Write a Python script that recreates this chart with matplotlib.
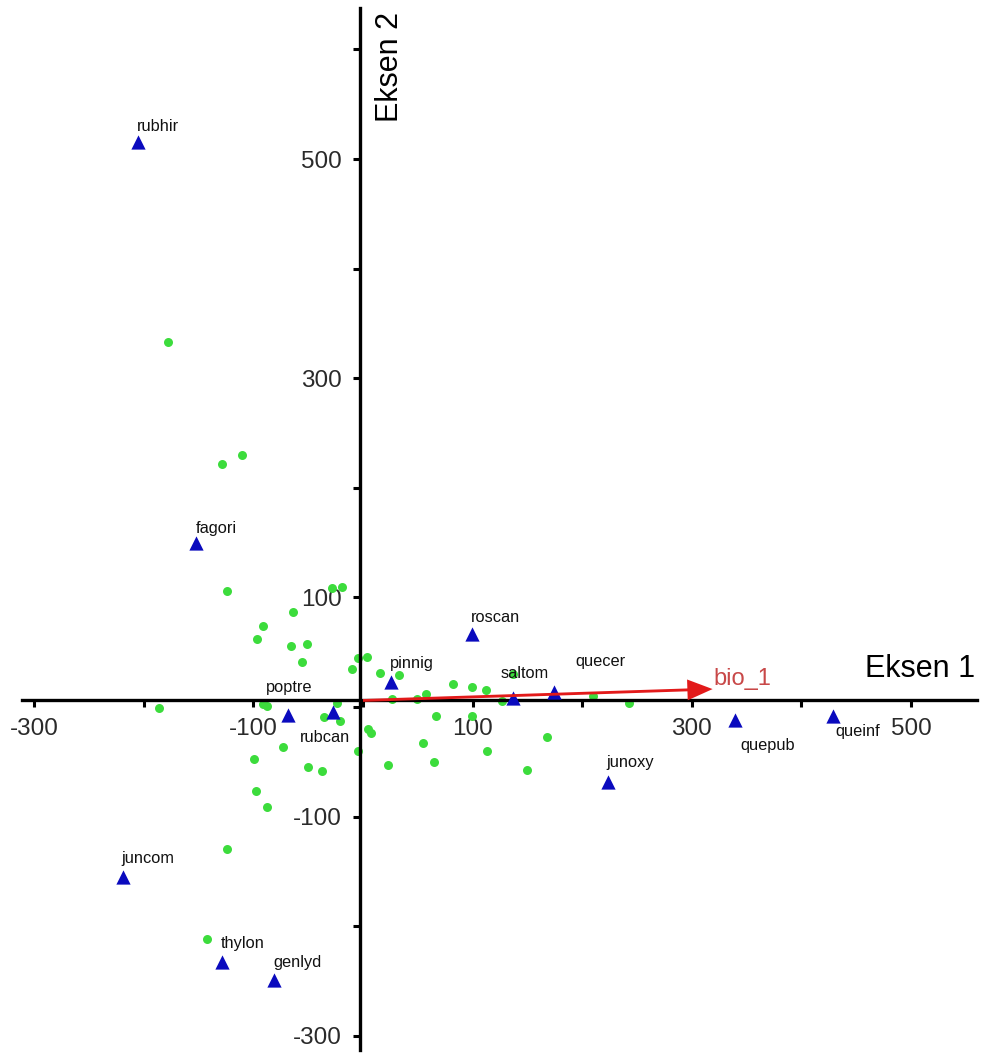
import matplotlib
matplotlib.use("Agg")
import matplotlib.pyplot as plt

plt.rcParams['font.family'] = ['Liberation Sans', 'DejaVu Sans']
plt.rcParams['axes.unicode_minus'] = False

# site scores (green dots), axis 1 / axis 2
site_x = [-178.2, -128.4, -110.1, -124.4, -64.1, -90.8, -96.4, -65.7, -51.4, -55.7,
          -28.3, -19.2, -4.1, 4.1, -9.8, -185.7, -91.2, -87.9, -23.7, -36.0,
          -21.0, 4.8, 7.0, -4.1, -72.7, -99.0, -49.9, -37.7, -97.6, -87.9,
          -124.4, -142.6, 15.5, 32.6, 26.9, 49.0, 57.8, 82.4, 99.5, 112.2,
          126.8, 136.9, 210.1, 242.4, 66.3, 99.6, 168.2, 113.6, 150.1, 55.0,
          22.5, 64.8]
site_y = [333.3, 221.7, 230.2, 106.1, 87.0, 73.9, 61.8, 55.9, 57.5, 40.8,
          108.3, 109.8, 45.0, 46.1, 35.1, -1.2, 3.2, 1.2, 3.6, -9.1,
          -12.3, -20.1, -23.7, -40.1, -36.5, -47.0, -54.5, -58.1, -76.4, -91.5,
          -129.7, -211.7, 30.7, 29.2, 7.6, 7.3, 11.6, 20.8, 18.4, 15.5,
          5.2, 29.7, 10.0, 3.8, -8.0, -8.0, -27.6, -40.4, -57.2, -33.1,
          -52.9, -49.9]

# species scores (blue triangles)
species = ['rubhir', 'fagori', 'roscan', 'pinnig', 'saltom', 'quecer', 'poptre',
           'rubcan', 'junoxy', 'quepub', 'queinf', 'juncom', 'thylon', 'genlyd']
species_x = [-205.0, -152.1, 99.5, 25.3, 137.1, 174.5, -68.7,
             -27.6, 223.8, 339.4, 429.1, -219.3, -128.4, -80.9]
species_y = [515.8, 149.9, 66.6, 23.1, 7.9, 13.4, -7.3,
             -4.3, -68.2, -11.9, -8.2, -155.4, -232.4, -249.1]

# environmental vector
arrow_name = 'bio_1'
arrow_start = (0, 6)
arrow_end = (319, 16.4)

x_ticks = [-300, -200, -100, 0, 100, 200, 300, 400, 500]
x_tick_labels = ['-300', '', '-100', '', '100', '', '300', '', '500']
y_ticks = [-300, -200, -100, 0, 100, 200, 300, 400, 500, 600]
y_tick_labels = ['-300', '', '-100', '', '100', '', '300', '', '500', '']

# label offsets in pixels (left edge, baseline) from each triangle
label_offsets = {
    'rubhir': (-1, 11), 'fagori': (-1, 10), 'roscan': (-1, 12), 'pinnig': (-1, 14),
    'saltom': (-13, 20), 'quecer': (21, 26), 'poptre': (-22, 23), 'rubcan': (-33, -30),
    'junoxy': (-2, 15), 'quepub': (5, -30), 'queinf': (2, -20), 'juncom': (-1, 14),
    'thylon': (-2, 14), 'genlyd': (-1, 13),
}

fig = plt.figure(figsize=(9.81, 10.57), dpi=100)
ax = fig.add_axes([0, 0, 1, 1])
ax.set_xlim(-331.2, 563.9)
ax.set_ylim(-319.3, 645.1)

ax.scatter(site_x, site_y, s=42, color='#3CDC3C', linewidths=0, zorder=2)
ax.scatter(species_x, species_y, s=105, marker='^', color='#0A0ABE', linewidths=0, zorder=3)

for name, x, y in zip(species, species_x, species_y):
    dx, dy = label_offsets[name]
    ax.annotate(name, (x, y), xytext=(dx, dy), textcoords='offset pixels',
                ha='left', va='baseline', fontsize=11.8, color='#111111', zorder=5)

ax.arrow(arrow_start[0], arrow_start[1],
         arrow_end[0] - arrow_start[0], arrow_end[1] - arrow_start[1],
         width=2.6, head_width=19, head_length=23, length_includes_head=True,
         color='#E21A1A', linewidth=0, zorder=4)
ax.annotate(arrow_name, arrow_end, xytext=(1, 10), textcoords='offset pixels',
            ha='left', va='center', fontsize=17, color='#C84848', zorder=5)

# axes crossing at the origin
for side in ['top', 'right']:
    ax.spines[side].set_visible(False)
ax.spines['left'].set_position(('data', -2.7))
ax.spines['bottom'].set_position(('data', 6.4))
ax.spines['left'].set_bounds(-313, 638)
ax.spines['bottom'].set_bounds(-311, 560)
for side in ['left', 'bottom']:
    ax.spines[side].set_linewidth(2.4)
    ax.spines[side].set_color('black')

ax.set_xticks(x_ticks)
ax.set_xticklabels(x_tick_labels)
ax.set_yticks(y_ticks)
ax.set_yticklabels(y_tick_labels)
ax.tick_params(direction='out', length=5, width=2.2, labelsize=17.5,
               labelcolor='#2a2a2a', pad=8)
ax.patch.set_visible(False)

ax.text(0.994, 0.367, 'Eksen 1', transform=ax.transAxes, ha='right', va='center',
        fontsize=22, color='black')
ax.text(0.3976, 0.989, 'Eksen 2', transform=ax.transAxes, ha='center', va='top',
        rotation=90, fontsize=22, color='black')

fig.savefig('out.png', dpi=100)
